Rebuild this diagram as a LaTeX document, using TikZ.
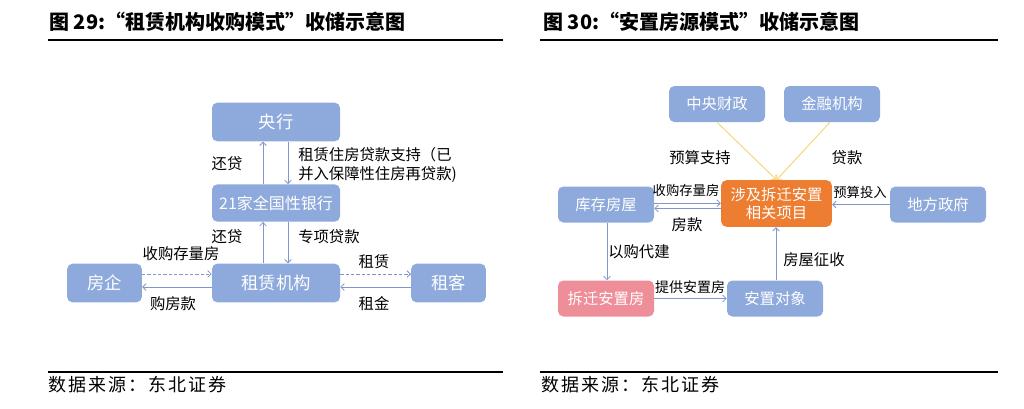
\documentclass[tikz,border=0pt]{standalone}
\usepackage{fontspec}
\setmainfont{Noto Sans CJK SC}
\newfontfamily\cjk{Noto Sans CJK SC}
\newfontfamily\cjksp[LetterSpace=11]{Noto Sans CJK SC}
\usetikzlibrary{arrows.meta,calc}
\definecolor{boxblue}{HTML}{8EA9DB}
\definecolor{arrblue}{HTML}{7F97CC}
\definecolor{orng}{HTML}{ED7D31}
\definecolor{pinkbox}{HTML}{EE8E98}
\definecolor{yel}{HTML}{F2D675}
\tikzset{
  box/.style={rounded corners=4pt, fill=boxblue, text=white, inner sep=0pt, align=center, font=\cjk\fontsize{13}{15}\selectfont},
  arr/.style={draw=arrblue, line width=0.6pt, -{Straight Barb[length=2.6pt,width=5pt]}},
  darr/.style={arr, dashed, dash pattern=on 2.5pt off 1.5pt},
  yarr/.style={draw=yel, line width=0.7pt, -{Straight Barb[length=2.6pt,width=5pt]}},
  lbl/.style={inner sep=0pt, font=\cjk\fontsize{11.5}{14}\selectfont, text=black},
  lblm/.style={inner sep=0pt, font=\cjk\fontsize{10.5}{12}\selectfont, text=black},
  lbls/.style={inner sep=0pt, font=\cjk\fontsize{10}{12}\selectfont, text=black},
  ttl/.style={inner sep=0pt, anchor=west, font=\cjk\bfseries\fontsize{15}{17}\selectfont},
  src/.style={inner sep=0pt, anchor=west, font=\cjksp\fontsize{13.5}{15}\selectfont},
  rule/.style={line width=1.3pt},
  srule/.style={line width=0.8pt}
}
\begin{document}
\begin{tikzpicture}[x=0.75pt,y=-0.75pt]
\useasboundingbox (0,0) rectangle (1024,408);
% titles and rules
\node[ttl] (t1) at (49,22) {图 29:“租赁机构收购模式”收储示意图};
\node[ttl] (t2) at (543,22) {图 30:“安置房源模式”收储示意图};
\draw[rule] (48,40) -- (503,40);
\draw[rule] (540,40) -- (998,40);
\draw[srule] (48,372) -- (503,372);
\draw[srule] (540,372) -- (998,372);
\node[src] (s1) at (48,385) {数据来源：东北证券};
\node[src] (s2) at (541,385) {数据来源：东北证券};

% ---------- left diagram ----------
\node[box, minimum width=96pt, minimum height=29pt] (pboc) at (276,122) {央行};
\node[box, minimum width=96pt, minimum height=28pt, font=\cjk\fontsize{12}{14}\selectfont] (bank) at (276,203) {21家全国性银行};
\node[box, minimum width=96pt, minimum height=29pt] (lease) at (276,283) {租赁机构};
\node[box, minimum width=56pt, minimum height=29pt] (dev) at (104.5,283) {房企};
\node[box, minimum width=56pt, minimum height=29pt] (ten) at (448.5,283) {租客};

\draw[arr] ([xshift=-9.75pt]bank.north) -- ([xshift=-9.75pt]pboc.south);
\draw[arr] ([xshift=9pt]pboc.south) -- ([xshift=9pt]bank.north);
\draw[arr] ([xshift=-9.75pt]lease.north) -- ([xshift=-9.75pt]bank.south);
\draw[arr] ([xshift=9pt]bank.south) -- ([xshift=9pt]lease.north);
\node[lbl] (l1) at (227,164) {还贷};
\node[lbl, anchor=west, align=left] (l2) at (298,165) {租赁住房贷款支持（已\\并入保障性住房再贷款)};
\node[lbl] (l3) at (227,237) {还贷};
\node[lbl, anchor=west] (l4) at (298,237) {专项贷款};

\draw[darr] ([yshift=6.75pt]dev.east) -- ([yshift=6.75pt]lease.west);
\draw[arr] ([yshift=-3pt]lease.west) -- ([yshift=-3pt]dev.east);
\draw[darr] ([yshift=6.75pt]lease.east) -- ([yshift=6.75pt]ten.west);
\draw[arr] ([yshift=-3pt]ten.west) -- ([yshift=-3pt]lease.east);
\node[lbl] (l5) at (181,254) {收购存量房};
\node[lbl] (l6) at (173,304) {购房款};
\node[lbl] (l7) at (374,262) {租赁};
\node[lbl] (l8) at (374,304) {租金};

% ---------- right diagram ----------
\tikzset{rbox/.style={box, minimum width=72pt, minimum height=27pt, font=\cjk\fontsize{11.5}{13}\selectfont}}
\node[rbox] (cf) at (717,104) {中央财政};
\node[rbox] (fin) at (832,104) {金融机构};
\node[rbox, fill=orng, minimum width=83pt, minimum height=35pt, font=\cjk\fontsize{11.5}{13}\selectfont] (proj) at (776.5,203.5) {涉及拆迁安置\\相关项目};
\node[rbox] (stock) at (606,204.5) {库存房屋};
\node[rbox] (gov) at (938,204.5) {地方政府};
\node[rbox, fill=pinkbox] (reset) at (606,298.5) {拆迁安置房};
\node[rbox] (obj) at (775,298.5) {安置对象};

\draw[yarr] (cf.south) -- (proj.north);
\draw[yarr] ([xshift=-1.5pt]fin.south) -- (proj.north);
\node[lbl] (r1) at (700,158) {预算支持};
\node[lbl] (r2) at (847,158) {贷款};

\draw[arr] ([yshift=1pt]stock.east) -- ([yshift=1pt]stock.east -| proj.west);
\draw[arr] ([yshift=-3pt]stock.east -| proj.west) -- ([yshift=-3pt]stock.east);
\node[lbls] (r3) at (686,190) {收购存量房};
\node[lbl] (r4) at (687,225) {房款};

\draw[arr] (gov.west) -- (gov.west -| proj.east);
\node[lbls] (r5) at (860,192) {预算投入};

\draw[arr] ([xshift=0.75pt]stock.south) -- ([xshift=0.75pt]reset.north);
\node[lbl, anchor=west] (r6) at (608,252) {以购代建};

\draw[arr] (reset.east) -- (obj.west);
\node[lblm] (r7) at (690,287) {提供安置房};

\draw[arr] ([xshift=0.75pt]obj.north) -- ([xshift=0.75pt]obj.north |- proj.south);
\node[lbl, anchor=west] (r8) at (783,260) {房屋征收};
\end{tikzpicture}
\end{document}
